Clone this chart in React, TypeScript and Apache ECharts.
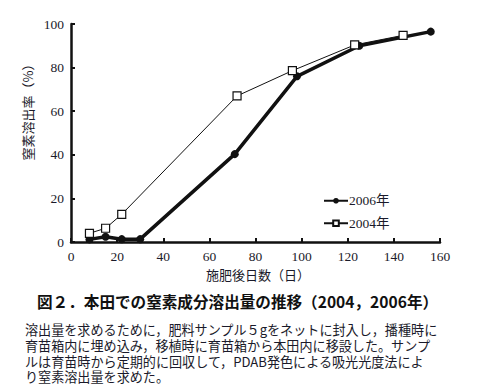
import React, { useEffect, useRef } from "react";
import * as echarts from "echarts";

const days2006 = [8, 15, 22, 30, 71, 98, 125, 156];
const vals2006 = [1.2, 2.4, 1.3, 1.3, 40.3, 76, 90, 96.5];
const days2004 = [8, 15, 22, 72, 96, 123, 144];
const vals2004 = [4, 6.3, 12.7, 67, 78.6, 90.4, 94.8];
const seriesNames = ["2006年", "2004年"];
const yAxisTitle = "窒素溶出率（%）";
const xAxisTitle = "施肥後日数（日）";
const figTitle = "図２．本田での窒素成分溶出量の推移（2004，2006年）";
const captionLines = [
  "溶出量を求めるために，肥料サンプル５gをネットに封入し，播種時に",
  "育苗箱内に埋め込み，移植時に育苗箱から本田内に移設した。サンプ",
  "ルは育苗時から定期的に回収して，PDAB発色による吸光光度法によ",
  "り窒素溶出量を求めた。",
];

const SERIF = "Liberation Serif";
const SERIF_CJK = "Liberation Serif, Noto Sans CJK JP";
const CJK = "Noto Sans CJK JP";
const TXT = "#1a1a2a";

export default function App() {
  const ref = useRef<HTMLDivElement>(null);
  useEffect(() => {
    if (!ref.current) return;
    const chart = echarts.init(ref.current, undefined, { renderer: "svg" });
    chart.setOption({
      animation: false,
      backgroundColor: "#fff",
      grid: { left: 71, top: 24, right: 48, bottom: 149, containLabel: false },
      xAxis: {
        type: "value",
        min: 0,
        max: 160,
        interval: 20,
        axisLine: { lineStyle: { color: "#111", width: 2.5 } },
        axisTick: { inside: true, length: 4, lineStyle: { color: "#111", width: 2 } },
        axisLabel: { color: TXT, fontFamily: SERIF, fontSize: 13.5, margin: 7 },
        splitLine: { show: false },
      },
      yAxis: {
        type: "value",
        min: 0,
        max: 100,
        interval: 20,
        axisLine: { show: true, lineStyle: { color: "#111", width: 2.5 } },
        axisTick: { show: true, inside: true, length: 4, lineStyle: { color: "#111", width: 2 } },
        axisLabel: { color: TXT, fontFamily: SERIF, fontSize: 13.5, margin: 7 },
        splitLine: { show: false },
      },
      legend: {
        orient: "vertical",
        left: 318,
        top: 189,
        itemWidth: 24,
        itemHeight: 7,
        itemGap: 9,
        textStyle: { color: TXT, fontFamily: SERIF_CJK, fontSize: 13.5, padding: [0, 0, 0, -4] },
        data: seriesNames,
      },
      series: [
        {
          name: seriesNames[0],
          type: "line",
          data: days2006.map((d, i) => [d, vals2006[i]]),
          symbol: "circle",
          symbolSize: 8,
          itemStyle: { color: "#111" },
          lineStyle: { color: "#111", width: 3.5 },
          z: 3,
        },
        {
          name: seriesNames[1],
          type: "line",
          data: days2004.map((d, i) => [d, vals2004[i]]),
          symbol: "rect",
          symbolSize: 8,
          itemStyle: { color: "#fff", borderColor: "#111", borderWidth: 1.2 },
          lineStyle: { color: "#111", width: 1 },
          z: 4,
        },
      ],
      graphic: [
        {
          type: "text",
          x: 27,
          y: 109,
          rotation: Math.PI / 2,
          style: {
            text: yAxisTitle,
            fontFamily: CJK,
            fontSize: 13,
            fill: TXT,
            align: "center",
            verticalAlign: "middle",
          },
        },
        {
          type: "text",
          x: 258,
          y: 274,
          style: {
            text: xAxisTitle,
            fontFamily: CJK,
            fontSize: 13,
            fill: TXT,
            align: "center",
            verticalAlign: "middle",
          },
        },
        {
          type: "text",
          x: 37,
          y: 301,
          style: {
            text: figTitle,
            fontFamily: CJK,
            fontSize: 15.6,
            fontWeight: "bold",
            fill: "#111",
            align: "left",
            verticalAlign: "middle",
          },
        },
        {
          type: "text",
          x: 25,
          y: 322,
          style: {
            text: captionLines.join("\n"),
            fontFamily: CJK,
            fontSize: 13.1,
            lineHeight: 15.7,
            fill: TXT,
            align: "left",
            verticalAlign: "top",
          },
        },
      ],
    });
    return () => chart.dispose();
  }, []);
  return (
    <div
      ref={ref}
      style={{ position: "absolute", left: 0, top: 0, width: 488, height: 391 }}
    />
  );
}
